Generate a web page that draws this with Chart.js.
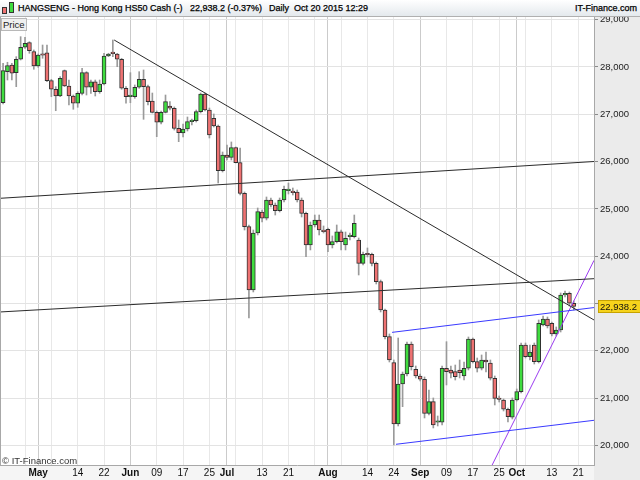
<!DOCTYPE html>
<html>
<head>
<meta charset="utf-8">
<title>HANGSENG - Hong Kong HS50 Cash</title>
<script src="https://cdn.jsdelivr.net/npm/chart.js@4.4.1/dist/chart.umd.min.js"></script>
<style>
  html, body { margin: 0; padding: 0; background: #fff; }
  #wrap { position: relative; width: 640px; height: 480px; overflow: hidden; font-family: "Liberation Sans", Arial, sans-serif; }
  #chart { position: absolute; left: 0; top: 0; }
  #header { position: absolute; left: 0; top: 0; width: 640px; height: 16px; background: linear-gradient(#ffffff, #e4e9ed); border-bottom: 1px solid #b0b0b0; font-size: 9px; color: #000; }
  #header span { position: absolute; top: 3px; white-space: nowrap; -webkit-text-stroke: 0.25px #000; }
  .ic { position: absolute; border: 1px solid #333; width: 3px; }
  #price { position: absolute; left: 1px; top: 18px; padding: 0 1px; font-size: 9.5px; line-height: 11px; color: #222; background: #efefef; border: 1px solid #b8b8b8; }
  #copy { position: absolute; left: 2px; top: 455px; font-size: 9.5px; color: #333; }
</style>
</head>
<body>
<div id="wrap">
  <canvas id="chart" width="640" height="480"></canvas>
  <div id="header">
    <i class="ic" style="left:2px;top:7px;height:5px;background:#ee7272"></i>
    <i class="ic" style="left:9px;top:2px;height:9px;background:#3fdc3f"></i>
    <span style="left:18px">HANGSENG - Hong Kong HS50 Cash (-)</span>
    <span style="left:190px">22,938.2 (-0.37%)</span>
    <span style="left:269px">Daily</span>
    <span style="left:294px">Oct 20 2015 12:29</span>
    <span style="right:3px">IT-Finance.com</span>
  </div>
  <div id="price">Price</div>
  <div id="copy">© IT-Finance.com</div>
</div>
<script>
// daily candles, Apr 21 - Oct 20 2015 (one per weekday)
const open = [
  27245, 27901, 28042, 27880, 28163, 28417, 28514, 28324, 28021, 28254,
  28302, 27711, 27529, 27387, 27922, 27598, 27387, 27233, 27444, 27880,
  27571, 27689, 27478, 27641, 28233, 28290, 28275, 28163, 27550, 27372,
  27372, 27571, 27740, 27584, 27281, 27042, 26831, 27042, 27176, 27127,
  26704, 26605, 26689, 26844, 26865, 27055, 27429, 27091, 26916, 26753,
  25808, 26140, 26091, 26294, 25977, 25330, 24624, 23286, 24491, 24935,
  24802, 25189, 25083, 24962, 25189, 25385, 25364, 25358, 25189, 24907,
  24237, 24660, 24766, 24554, 24569, 24237, 24307, 24518, 24237, 24413,
  24413, 24343, 23850, 24041, 24041, 23850, 23461, 22863, 22299, 21749,
  20453, 21299, 21510, 22144, 21610, 21468, 21398, 20679, 20925, 20489,
  20489, 21631, 21595, 21559, 21595, 21468, 21631, 22250, 21770, 21631,
  21806, 21743, 21419, 20996, 20960, 20764, 20595, 20960, 21136, 22123,
  21876, 22123, 21770, 22546, 22673, 22582, 22356, 22440, 23180, 23216,
  23005
];
const high = [
  28078, 28100, 28078, 28218, 28641, 28628, 28535, 28360, 28275, 28465,
  28465, 27740, 27584, 27795, 27937, 27725, 27408, 27478, 27973, 27901,
  27725, 27725, 27725, 28290, 28290, 28571, 28290, 28184, 27584, 27880,
  27620, 27901, 27937, 27620, 27450, 27070, 27070, 27408, 27267, 27155,
  26880, 26795, 26943, 26901, 27091, 27450, 27450, 27133, 27007, 26774,
  26203, 26351, 26415, 26309, 26288, 25358, 24660, 24554, 25019, 24977,
  25252, 25231, 25125, 25231, 25485, 25548, 25442, 25400, 25231, 24935,
  24723, 24871, 24871, 24639, 24597, 24428, 24660, 24554, 24512, 24491,
  24871, 24385, 24089, 24174, 24068, 23878, 23497, 22884, 22356, 21806,
  22271, 21552, 22187, 22187, 21679, 21510, 21447, 21172, 21003, 20622,
  21679, 22193, 21679, 21700, 21806, 21764, 22292, 22271, 21848, 21912,
  21975, 21806, 21468, 21045, 20982, 20791, 21003, 21193, 22165, 22165,
  22123, 22165, 22652, 22736, 22715, 22609, 22504, 23222, 23265, 23244,
  23053
];
const low = [
  27218, 27725, 27725, 27584, 28148, 28395, 28290, 27952, 27994, 28184,
  27689, 27372, 27076, 27372, 27584, 27197, 27106, 27148, 27408, 27408,
  27444, 27387, 27444, 27620, 28218, 28218, 28006, 27529, 27233, 27245,
  27338, 27550, 26894, 27197, 27028, 26527, 26795, 27028, 27091, 26668,
  26421, 26520, 26647, 26774, 26837, 27028, 27070, 26499, 26732, 25548,
  25780, 26034, 26034, 25971, 25294, 24554, 22694, 23244, 24449, 24723,
  24766, 25041, 24871, 24935, 25146, 25315, 25294, 25146, 24829, 23990,
  24132, 24618, 24449, 24491, 24096, 24174, 24280, 24132, 24132, 24343,
  24385, 23603, 23814, 23984, 23793, 23413, 22821, 22250, 21764, 20009,
  20411, 20819, 21468, 21595, 21426, 21362, 20580, 20643, 20369, 20411,
  20432, 21278, 21426, 21383, 21426, 21383, 21595, 21743, 21552, 21595,
  21552, 21383, 20855, 20918, 20728, 20495, 20559, 20939, 21108, 21848,
  21806, 21721, 21743, 22525, 22483, 22313, 22313, 22398, 23138, 22948,
  22863
];
const close = [
  27922, 28028, 27867, 28163, 28417, 28501, 28345, 28021, 28254, 28248,
  27711, 27529, 27387, 27761, 27598, 27387, 27233, 27444, 27880, 27571,
  27689, 27478, 27641, 28233, 28275, 28283, 28163, 27550, 27372, 27381,
  27571, 27740, 27584, 27267, 27042, 26831, 27042, 27267, 27127, 26704,
  26611, 26689, 26844, 26859, 27055, 27429, 27091, 26563, 26753, 25808,
  26140, 26091, 26294, 25977, 25330, 24624, 23286, 24491, 24941, 24802,
  25189, 25083, 24962, 25189, 25415, 25394, 25343, 25189, 24907, 24237,
  24660, 24766, 24554, 24518, 24237, 24307, 24518, 24307, 24379, 24417,
  24696, 23850, 24041, 24030, 23850, 23461, 22863, 22299, 21806, 20453,
  21299, 21510, 22144, 21665, 21468, 21398, 20679, 20925, 20432, 20502,
  21631, 21559, 21525, 21453, 21538, 21631, 22250, 21770, 21631, 21806,
  21764, 21419, 20996, 20971, 20764, 20607, 20960, 21136, 22123, 21876,
  21975, 21770, 22582, 22673, 22525, 22356, 22440, 23180, 23216, 23005,
  22938.2
];

// x axis: candle index of each gridline and its label ('' = line only)
const tickPos  = [5, 8, 11, 17, 23, 29, 35, 41, 47, 51, 53, 59, 65, 71, 74, 77, 83, 89, 95, 101, 107, 113, 117, 119, 125, 131];
const tickText = ['', 'May', '', '14', '22', 'Jun', '09', '17', '25', 'Jul', '', '13', '21', '', 'Aug', '', '14', '24', 'Sep', '09', '17', '25', 'Oct', '', '13', '21'];
const monthPos = [8, 29, 51, 74, 95, 117];
const priceTicks = [20000, 21000, 22000, 23000, 24000, 25000, 26000, 27000, 28000, 29000];

// drawn trend lines (candle index, price)
const downTrend  = [{x: 25.3, y: 28571}, {x: 134.6, y: 22652}];
const upperLevel = [{x: -0.7, y: 25224}, {x: 134.6, y: 26002}];
const lowerLevel = [{x: -0.7, y: 22821}, {x: 134.6, y: 23525}];
const chanTop    = [{x: 88.6, y: 22390}, {x: 134.6, y: 22914}];
const chanBottom = [{x: 89.5, y: 20024}, {x: 134.6, y: 20531}];
const riseLine   = [{x: 111.4, y: 19586}, {x: 134.6, y: 23912}];

const UP = '#3fdc3f';
const DOWN = '#ee7272';
const FONT = '"Liberation Sans", Arial, sans-serif';

const idx = open.map((_, i) => i);
const bodyColors = idx.map(i => close[i] >= open[i] ? UP : DOWN);

function trend(data, color) {
  return {
    type: 'line', data, borderColor: color, borderWidth: 1,
    pointRadius: 0, fill: false, tension: 0, order: 0
  };
}

const frame = {
  id: 'frame',
  beforeDraw(chart) {
    const { ctx, chartArea: a, width, height } = chart;
    ctx.save();
    ctx.fillStyle = '#ffffff';
    ctx.fillRect(0, 0, width, height);
    ctx.fillStyle = '#ebebeb';
    ctx.fillRect(a.right, a.top, width - a.right, height - a.top);
    ctx.fillStyle = '#f5f5f5';
    ctx.fillRect(0, a.bottom, a.right, height - a.bottom);
    ctx.restore();
  },
  afterDraw(chart) {
    const { ctx, chartArea: a } = chart;
    const ys = chart.scales.y;
    ctx.save();
    ctx.strokeStyle = '#a8a8a8';
    ctx.lineWidth = 1;
    ctx.beginPath();
    ctx.moveTo(0.5, a.top);
    ctx.lineTo(0.5, a.bottom);
    ctx.stroke();
    // last price tag
    const last = close[close.length - 1];
    const y = Math.round(ys.getPixelForValue(last));
    ctx.fillStyle = '#f6d31c';
    ctx.fillRect(a.right + 4, y - 6, 46, 13);
    ctx.strokeStyle = '#c7a300';
    ctx.strokeRect(a.right + 4.5, y - 5.5, 46, 12);
    ctx.fillStyle = '#111';
    ctx.font = '9.5px ' + FONT;
    ctx.textBaseline = 'middle';
    ctx.fillText(last.toLocaleString('en-US', { minimumFractionDigits: 1 }), a.right + 6, y + 1);
    ctx.restore();
  }
};

new Chart(document.getElementById('chart'), {
  type: 'bar',
  data: {
    datasets: [
      trend(downTrend, '#2b2b2b'),
      trend(upperLevel, '#2b2b2b'),
      trend(lowerLevel, '#2b2b2b'),
      trend(chanTop, '#3a3aff'),
      trend(chanBottom, '#3a3aff'),
      trend(riseLine, '#9b3cf0'),
      {
        label: 'body',
        data: idx.map(i => ({ x: i, y: [open[i], close[i]] })),
        backgroundColor: bodyColors,
        borderColor: '#303030',
        borderWidth: 1,
        borderSkipped: false,
        barThickness: 4,
        minBarLength: 1.5,
        grouped: false,
        order: 1
      },
      {
        label: 'wick',
        data: idx.map(i => ({ x: i, y: [low[i], high[i]] })),
        backgroundColor: '#9a9a9a',
        borderWidth: 0,
        barThickness: 1,
        grouped: false,
        order: 2
      }
    ]
  },
  plugins: [frame],
  options: {
    responsive: false,
    animation: false,
    layout: { padding: { top: 17, left: 0, right: 0, bottom: 0 } },
    plugins: { legend: { display: false }, tooltip: { enabled: false } },
    scales: {
      x: {
        type: 'linear',
        min: -0.7,
        max: 134.6,
        offset: false,
        afterBuildTicks: s => { s.ticks = tickPos.map(v => ({ value: v })); },
        afterFit: s => { s.height = 15; },
        grid: {
          offset: false,
          drawTicks: false,
          color: c => c.tick && monthPos.includes(c.tick.value) ? '#cbcbcb' : '#e8e8e8'
        },
        border: { color: '#a8a8a8' },
        ticks: {
          autoSkip: false,
          maxRotation: 0,
          padding: 2,
          color: '#111',
          font: c => ({ family: FONT, size: 10, weight: c.tick && monthPos.includes(c.tick.value) ? 'bold' : 'normal' }),
          callback: v => tickText[tickPos.indexOf(v)] ?? ''
        }
      },
      y: {
        position: 'right',
        min: 19586,
        max: 29057,
        afterBuildTicks: s => { s.ticks = priceTicks.map(v => ({ value: v })); },
        afterFit: s => { s.width = 46; },
        grid: { color: '#e3e3e3', tickLength: 4, tickColor: '#8a8a8a' },
        border: { color: '#a8a8a8' },
        ticks: {
          padding: 2,
          color: '#222',
          font: { family: FONT, size: 9.5 },
          callback: v => v.toLocaleString('en-US')
        }
      }
    }
  }
});
</script>
</body>
</html>
